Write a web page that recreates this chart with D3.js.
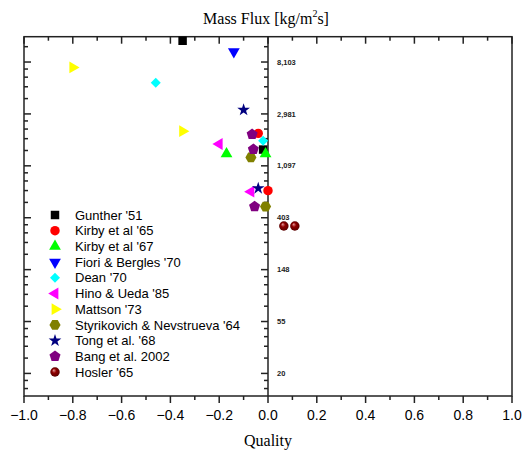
<!DOCTYPE html>
<html>
<head>
<meta charset="utf-8">
<script src="https://cdn.jsdelivr.net/npm/d3@7"></script>
<style>
  body { margin: 0; background: #fff; }
  svg { display: block; }
</style>
</head>
<body>
<div id="grafica"></div>
<script>
// datos: [calidad, flujo másico]
const gunther = [[-0.35, 12200], [-0.02, 1500]];
const kirby65 = [[-0.04, 2050], [0.0, 680]];
const kirby67 = [[-0.17, 1380], [-0.01, 1380]];
const fiori = [[-0.14, 9900]];
const dean = [[-0.46, 5440], [-0.02, 1780]];
const hino = [[-0.20, 1670], [-0.07, 666]];
const mattson = [[-0.80, 7300], [-0.35, 2140]];
const styrikovich = [[-0.07, 1290], [-0.01, 500]];
const tong = [[-0.10, 3220], [-0.04, 711]];
const bang = [[-0.065, 2010], [-0.06, 1510], [-0.055, 500]];
const hosler = [[0.065, 344], [0.11, 344]];

const nombres = ["Gunther '51", "Kirby et al '65", "Kirby et al '67", "Fiori & Bergles '70", "Dean '70",
  "Hino & Ueda '85", "Mattson '73", "Styrikovich & Nevstrueva '64", "Tong et al. '68", "Bang et al. 2002", "Hosler '65"];
const colores = ["#000000", "#ff0000", "#00ff00", "#0000ff", "#00ffff", "#ff00ff", "#ffff00",
  "#808000", "#000080", "#800080", "url(#esfera)"];
const simbolos = ["square", "circle", "up", "down", "diamond", "left", "right", "hexagon", "star", "pentagon", "sphere"];
const series = [gunther, kirby65, kirby67, fiori, dean, hino, mattson, styrikovich, tong, bang, hosler];

const xTicks = d3.range(-1, 1.001, 0.2);
const yMajor = [3, 4, 5, 6, 7, 8, 9].map(k => Math.exp(k));

const W = 531, H = 459;
const pIzq = 24, pDer = 512, pSup = 36.7, pInf = 396;

const svg = d3.select("#grafica").append("svg")
  .attr("width", W).attr("height", H);

const defs = svg.append("defs");
const grad = defs.append("radialGradient").attr("id", "esfera")
  .attr("cx", "0.5").attr("cy", "0.5").attr("r", "0.5").attr("fx", "0.35").attr("fy", "0.3");
grad.append("stop").attr("offset", "0%").attr("stop-color", "#e8a0a0");
grad.append("stop").attr("offset", "45%").attr("stop-color", "#900000");
grad.append("stop").attr("offset", "100%").attr("stop-color", "#5a0000");

const x = d3.scaleLinear().domain([-1, 1]).range([pIzq, pDer]);
const y = d3.scaleLog().domain([13, 13200]).range([pInf, pSup]);

// ticks menores: 4 lineales entre potencias de e
const yMinor = [];
for (let k = 2; k <= 9; k++) {
  const a = Math.exp(k), b = Math.exp(k + 1);
  for (let j = 1; j < 5; j++) {
    const v = a + j * (b - a) / 5;
    if (v > 13 && v < 13200) yMinor.push(v);
  }
}
const xMinor = d3.range(-0.9, 1, 0.2);

const ejeColor = "#222";

// marco
svg.append("rect")
  .attr("x", pIzq).attr("y", pSup)
  .attr("width", pDer - pIzq).attr("height", pInf - pSup)
  .attr("fill", "none").attr("stroke", ejeColor).attr("stroke-width", 1.5);

// eje inferior
const ejeX = svg.append("g").attr("transform", `translate(0,${pInf})`);
ejeX.selectAll("line.mayor").data(xTicks).enter().append("line")
  .attr("x1", d => x(d)).attr("x2", d => x(d)).attr("y1", 0).attr("y2", 7)
  .attr("stroke", ejeColor).attr("stroke-width", 1.5);
ejeX.selectAll("line.menor").data(xMinor).enter().append("line")
  .attr("x1", d => x(d)).attr("x2", d => x(d)).attr("y1", 0).attr("y2", 4)
  .attr("stroke", ejeColor).attr("stroke-width", 1.5);
ejeX.selectAll("text").data(xTicks).enter().append("text")
  .attr("x", d => x(d)).attr("y", 24)
  .attr("text-anchor", "middle")
  .style("font-family", "'Liberation Sans', Arial, sans-serif")
  .style("font-size", "14px")
  .text(d => d3.format(".1f")(Math.abs(d) < 1e-9 ? 0 : d));

// ticks del borde superior (hacia dentro)
svg.selectAll("line.sup").data(xTicks.concat(xMinor)).enter().append("line")
  .attr("x1", d => x(d)).attr("x2", d => x(d))
  .attr("y1", pSup).attr("y2", (d, i) => pSup + (i < xTicks.length ? 7 : 4))
  .attr("stroke", ejeColor).attr("stroke-width", 1.5);

// ticks del borde izquierdo (hacia dentro)
svg.selectAll("line.izq").data(yMajor.concat(yMinor)).enter().append("line")
  .attr("y1", d => y(d)).attr("y2", d => y(d))
  .attr("x1", pIzq).attr("x2", (d, i) => pIzq + (i < yMajor.length ? 7 : 4))
  .attr("stroke", ejeColor).attr("stroke-width", 1.5);

// eje vertical en calidad = 0
const x0 = x(0);
svg.append("line")
  .attr("x1", x0).attr("x2", x0).attr("y1", pSup).attr("y2", pInf)
  .attr("stroke", ejeColor).attr("stroke-width", 1.5);
svg.selectAll("line.y0").data(yMajor.concat(yMinor)).enter().append("line")
  .attr("y1", d => y(d)).attr("y2", d => y(d))
  .attr("x1", x0).attr("x2", (d, i) => x0 - (i < yMajor.length ? 7 : 4))
  .attr("stroke", ejeColor).attr("stroke-width", 1.5);
svg.selectAll("text.ylab").data(yMajor).enter().append("text")
  .attr("x", x0 + 9).attr("y", d => y(d)).attr("dy", "0.35em")
  .style("font-family", "'Liberation Sans', Arial, sans-serif")
  .style("font-size", "7.5px").style("font-weight", "bold")
  .style("fill", "#222")
  .text(d => d3.format(",")(Math.round(d)));

// títulos
svg.append("text")
  .attr("x", 266).attr("y", 24).attr("text-anchor", "middle")
  .style("font-family", "'Liberation Serif', 'Times New Roman', serif")
  .style("font-size", "16px")
  .html('Mass Flux [kg/m<tspan dy="-7" font-size="10px">2</tspan><tspan dy="7">s]</tspan>');

svg.append("text")
  .attr("x", x0).attr("y", 446).attr("text-anchor", "middle")
  .style("font-family", "'Liberation Serif', 'Times New Roman', serif")
  .style("font-size", "16px")
  .text("Quality");

// símbolos
const pentagono = {
  draw(ctx, size) {
    const r = Math.sqrt(size / 2.38);
    for (let i = 0; i < 5; i++) {
      const a = -Math.PI / 2 + i * 2 * Math.PI / 5;
      i ? ctx.lineTo(r * Math.cos(a), r * Math.sin(a)) : ctx.moveTo(r * Math.cos(a), r * Math.sin(a));
    }
    ctx.closePath();
  }
};
const hexagono = {
  draw(ctx, size) {
    const r = Math.sqrt(size / 2.6);
    for (let i = 0; i < 6; i++) {
      const a = i * Math.PI / 3;
      i ? ctx.lineTo(r * Math.cos(a), r * Math.sin(a)) : ctx.moveTo(r * Math.cos(a), r * Math.sin(a));
    }
    ctx.closePath();
  }
};

function forma(tipo) {
  switch (tipo) {
    case "square": return { d: d3.symbol(d3.symbolSquare, 72)(), rot: 0 };
    case "circle": return { d: d3.symbol(d3.symbolCircle, 70)(), rot: 0 };
    case "sphere": return { d: d3.symbol(d3.symbolCircle, 70)(), rot: 0 };
    case "up": return { d: d3.symbol(d3.symbolTriangle, 60)(), rot: 0 };
    case "down": return { d: d3.symbol(d3.symbolTriangle, 60)(), rot: 180 };
    case "left": return { d: d3.symbol(d3.symbolTriangle, 60)(), rot: -90 };
    case "right": return { d: d3.symbol(d3.symbolTriangle, 60)(), rot: 90 };
    case "diamond": return { d: d3.symbol(d3.symbolSquare, 50)(), rot: 45 };
    case "star": return { d: d3.symbol(d3.symbolStar, 50)(), rot: 0 };
    case "pentagon": return { d: d3.symbol(pentagono, 80)(), rot: 0 };
    case "hexagon": return { d: d3.symbol(hexagono, 80)(), rot: 0 };
  }
}

const puntos = svg.append("g");
series.forEach((datos, i) => {
  const f = forma(simbolos[i]);
  puntos.selectAll(null).data(datos).enter().append("path")
    .attr("d", f.d)
    .attr("transform", d => `translate(${x(d[0])},${y(d[1])}) rotate(${f.rot})`)
    .attr("fill", colores[i]);
});

// leyenda
const leyenda = svg.append("g");
const ley0 = 215, paso = 15.7;
nombres.forEach((n, i) => {
  const f = forma(simbolos[i]);
  leyenda.append("path")
    .attr("d", f.d)
    .attr("transform", `translate(55,${ley0 + i * paso}) rotate(${f.rot})`)
    .attr("fill", colores[i]);
  leyenda.append("text")
    .attr("x", 75).attr("y", ley0 + i * paso).attr("dy", "0.36em")
    .style("font-family", "'Liberation Sans', Arial, sans-serif")
    .style("font-size", "13px")
    .text(n);
});
</script>
</body>
</html>
